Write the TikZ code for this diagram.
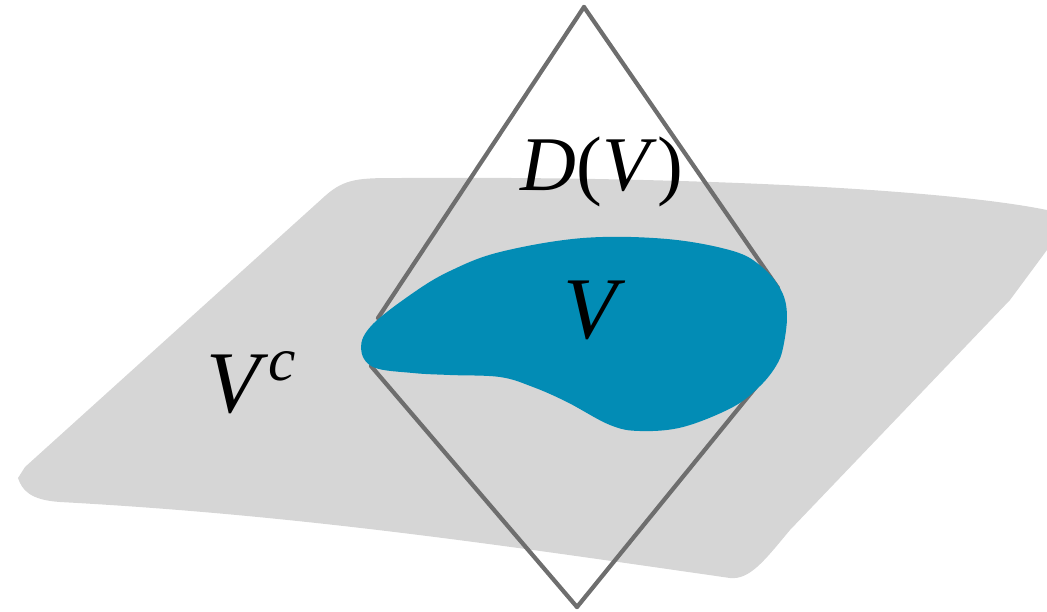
\documentclass[tikz,border=0pt]{standalone}
\usepackage{fontspec}
\setmainfont{Liberation Serif}
\definecolor{planegray}{HTML}{D6D6D6}
\definecolor{regionblue}{HTML}{028CB5}
\definecolor{pencilgray}{HTML}{6E6E6E}
\usetikzlibrary{positioning, calc}
\tikzset{
	planearea/.style={
			fill=planegray,
			draw=none
		},
	regionarea/.style={
			fill=regionblue,
			draw=none
		},
	diamondside/.style={
			draw=pencilgray,
			line width=1.2pt,
			line cap=round
		},
	biglabel/.style={
			anchor=base,
			inner sep=0pt,
			font=\fontsize{25}{30}\selectfont
		},
	domainlabel/.style={
			biglabel,
			font=\fontsize{22}{26}\selectfont
		}
}

\begin{document}
\begin{tikzpicture}[x=0.01cm, y=-0.01cm]
\useasboundingbox (0,0) rectangle (1047,611);

\fill[planearea] (25,467) -- (325,196)
  .. controls (345,178) and (360,178) .. (400,178)
  .. controls (700,176) and (950,190) .. (1047,210)
  -- (1047,250) -- (1010,300) -- (790,530)
  .. controls (765,560) and (750,580) .. (730,578)
  .. controls (500,545) and (300,515) .. (60,502)
  .. controls (30,500) and (22,490) .. (18,478) -- cycle;

\coordinate (dtop) at (584,7);
\coordinate (dbot) at (577,607);
\coordinate (dtl) at (378,318);
\coordinate (dbl) at (371,366);
\coordinate (dtr) at (778,288);
\coordinate (dbr) at (773,366);

\draw[diamondside] (dtop) -- (dtl);
\draw[diamondside] (dtop) -- (dtr);
\draw[diamondside] (dbl) -- (dbot);
\draw[diamondside] (dbr) -- (dbot);

\fill[regionarea] plot[smooth cycle, tension=0.6] coordinates {
  (361,348) (372,325) (413,293) (450,271) (500,252) (583,238) (667,239)
  (733,251) (762,267) (781,290) (787,315) (783,348) (776,366) (760,386)
  (733,407) (683,427) (640,431) (610,425) (567,402) (533,387) (500,377)
  (450,375) (413,373) (373,367)
};

\node[domainlabel] (dv) at (602,190) {\textit{D}(\textit{V})};
\node[biglabel] (v) at (595,338) {\textit{V}};
\node[biglabel] (vc) at (252,412) {\textit{V}\textsuperscript{\textit{c}}};
\end{tikzpicture}
\end{document}
